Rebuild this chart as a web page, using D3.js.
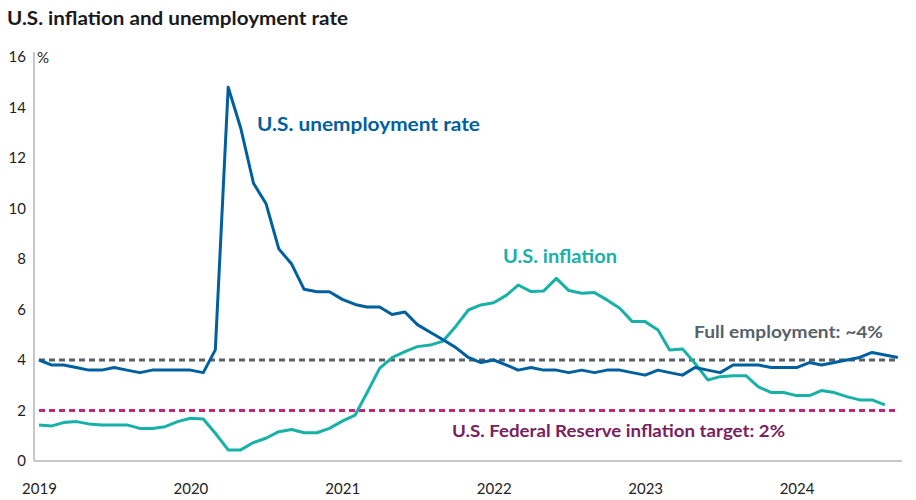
<!DOCTYPE html>
<html>
<head>
<meta charset="utf-8">
<script src="https://cdn.jsdelivr.net/npm/d3@7"></script>
<style>
  html, body { margin: 0; padding: 0; background: #fff; }
  svg { display: block; }
</style>
</head>
<body>
<svg id="chart" width="916" height="500"></svg>
<script>
// ---- Data (monthly, Jan 2019 onward) ----
const startMonth = "2019-01";
const unemployment = [
  4.0, 3.8, 3.8, 3.7, 3.6, 3.6, 3.7, 3.6, 3.5, 3.6, 3.6, 3.6,
  3.6, 3.5, 4.4, 14.8, 13.2, 11.0, 10.2, 8.4, 7.8, 6.8, 6.7, 6.7,
  6.4, 6.2, 6.1, 6.1, 5.8, 5.9, 5.4, 5.1, 4.8, 4.5, 4.1, 3.9,
  4.0, 3.8, 3.6, 3.7, 3.6, 3.6, 3.5, 3.6, 3.5, 3.6, 3.6, 3.5,
  3.4, 3.6, 3.5, 3.4, 3.7, 3.6, 3.5, 3.8, 3.8, 3.8, 3.7, 3.7,
  3.7, 3.9, 3.8, 3.9, 4.0, 4.1, 4.3, 4.2, 4.1
];
const inflation = [
  1.43, 1.39, 1.52, 1.56, 1.47, 1.43, 1.43, 1.43, 1.29, 1.29, 1.36, 1.56,
  1.69, 1.66, 1.10, 0.44, 0.44, 0.73, 0.90, 1.16, 1.25, 1.12, 1.12, 1.29,
  1.58, 1.82, 2.68, 3.67, 4.09, 4.33, 4.53, 4.59, 4.75, 5.32, 5.98, 6.18,
  6.27, 6.57, 6.97, 6.71, 6.73, 7.23, 6.75, 6.64, 6.67, 6.38, 6.05, 5.52,
  5.52, 5.19, 4.40, 4.44, 3.87, 3.21, 3.34, 3.38, 3.38, 2.94, 2.71, 2.71,
  2.59, 2.59, 2.79, 2.71, 2.55, 2.42, 2.42, 2.22
];
const fullEmployment = 4;
const fedTarget = 2;
const yTicks = [0, 2, 4, 6, 8, 10, 12, 14, 16];
const xTickYears = [2019, 2020, 2021, 2022, 2023, 2024];
const endMonth = "2024-09";

const title = "U.S. inflation and unemployment rate";
const unit = "%";
const labelUnemp = "U.S. unemployment rate";
const labelInfl = "U.S. inflation";
const labelFull = "Full employment: ~4%";
const labelFed = "U.S. Federal Reserve inflation target: 2%";

// ---- Helpers ----
const parse = d3.timeParse("%Y-%m");
const t0 = parse(startMonth);
const dateAt = i => d3.timeMonth.offset(t0, i);

const C = {
  blue: "#005f9f",
  teal: "#17b1a8",
  grayDash: "#56616a",
  magenta: "#c1267c",
  purple: "#79215d",
  axis: "#b5b5b5",
  text: "#222222"
};

const svg = d3.select("#chart");

const x = d3.scaleTime().domain([t0, parse(endMonth)]).range([39, 897.8]);
const y = d3.scaleLinear().domain([0, 16]).range([461, 57]);

// Title
svg.append("text")
  .attr("x", 7).attr("y", 25)
  .attr("font-family", "Lato, 'Open Sans', sans-serif")
  .attr("font-weight", 700)
  .attr("font-size", 19)
  .attr("fill", "#1a1a1a")
  .attr("textLength", 341).attr("lengthAdjust", "spacingAndGlyphs")
  .text(title);

// Y axis
const yAxis = d3.axisLeft(y).tickValues(yTicks).tickSize(0).tickPadding(8).tickFormat(d3.format("d"));
const gy = svg.append("g").attr("transform", "translate(34,0)").call(yAxis);
gy.select(".domain").attr("stroke", C.axis).attr("stroke-width", 1.5).attr("d", "M0,52V461");
gy.selectAll("text")
  .attr("font-family", "Lato, 'Liberation Sans', sans-serif")
  .attr("font-size", 15)
  .attr("fill", C.text);

svg.append("text")
  .attr("x", 37).attr("y", 63)
  .attr("font-family", "Lato, 'Liberation Sans', sans-serif")
  .attr("font-size", 15)
  .attr("fill", C.text)
  .text(unit);

// X axis
const xAxis = d3.axisBottom(x)
  .tickValues(xTickYears.map(yr => new Date(yr, 0, 1)))
  .tickSize(0).tickPadding(22)
  .tickFormat(d3.timeFormat("%Y"));
const gx = svg.append("g").attr("transform", "translate(0,461)").call(xAxis);
gx.select(".domain").attr("stroke", C.axis).attr("stroke-width", 1.5).attr("d", "M34,0H902");
gx.selectAll("text")
  .attr("font-family", "Lato, 'Liberation Sans', sans-serif")
  .attr("font-size", 15)
  .attr("fill", C.text);

// Reference lines
function refLine(v, color) {
  svg.append("line")
    .attr("x1", x(t0)).attr("x2", x(parse(endMonth)))
    .attr("y1", y(v)).attr("y2", y(v))
    .attr("stroke", color)
    .attr("stroke-width", 3)
    .attr("stroke-dasharray", "6,4");
}
refLine(fullEmployment, C.grayDash);
refLine(fedTarget, C.magenta);

// Series lines
const line = d3.line()
  .x((d, i) => x(dateAt(i)))
  .y(d => y(d));

svg.append("path")
  .datum(inflation)
  .attr("fill", "none")
  .attr("stroke", C.teal)
  .attr("stroke-width", 3)
  .attr("stroke-linejoin", "round")
  .attr("d", line);

svg.append("path")
  .datum(unemployment)
  .attr("fill", "none")
  .attr("stroke", C.blue)
  .attr("stroke-width", 3)
  .attr("stroke-linejoin", "round")
  .attr("d", line);

// Annotations
function label(txt, px, py, color, width, size) {
  svg.append("text")
    .attr("x", px).attr("y", py)
    .attr("font-family", "Lato, 'Open Sans', sans-serif")
    .attr("font-weight", 700)
    .attr("font-size", size)
    .attr("fill", color)
    .attr("textLength", width).attr("lengthAdjust", "spacingAndGlyphs")
    .text(txt);
}
label(labelUnemp, 257, 131, C.blue, 223, 19);
label(labelInfl, 503, 263, C.teal, 114, 19);
label(labelFull, 694, 338, C.grayDash, 189, 17);
label(labelFed, 452, 437, C.purple, 333, 17);
</script>
</body>
</html>
